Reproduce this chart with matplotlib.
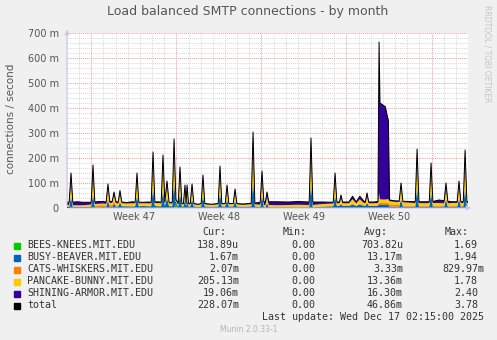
import matplotlib
matplotlib.use("Agg")
import matplotlib.pyplot as plt
from matplotlib.patches import Rectangle

W, H = 497, 340

# time in days from start of graph (33 days shown)
t = [0.0, 0.18, 0.33, 0.48, 0.8, 1.3, 1.8, 1.99, 2.14, 2.29,
     2.6, 3.0, 3.22, 3.37, 3.52, 3.72, 3.87, 4.02, 4.21, 4.36,
     4.51, 4.9, 5.4, 5.61, 5.76, 5.91, 6.3, 6.7, 6.93, 7.08,
     7.23, 7.5, 7.75, 7.90, 8.05, 8.23, 8.4, 8.66, 8.81, 8.96,
     9.15, 9.30, 9.45, 9.58, 9.71, 9.80, 9.88, 10.0, 10.14, 10.29,
     10.44, 10.8, 11.04, 11.19, 11.34, 11.9, 12.44, 12.59, 12.74, 13.02,
     13.17, 13.32, 13.68, 13.83, 13.98, 14.5, 15.16, 15.31, 15.46, 15.90,
     16.05, 16.20, 16.33, 16.46, 16.6, 17.3, 18.2, 19.0, 19.93, 20.08,
     20.23, 21.0, 21.91, 22.06, 22.21, 22.42, 22.55, 22.68, 23.2, 23.5,
     23.8, 24.1, 24.4, 24.55, 24.69, 24.83, 25.2, 25.59, 25.68, 25.76,
     26.0, 26.2, 26.35, 26.45, 26.55, 26.9, 27.34, 27.49, 27.64, 28.2,
     28.66, 28.81, 28.96, 29.4, 29.81, 29.96, 30.11, 30.6, 31.04, 31.19,
     31.34, 31.7, 32.11, 32.26, 32.41, 32.61, 32.76, 32.91, 33.0]

# values in milli connections / second
bees = [0, 0, 0, 0, 0, 0, 0, 0, 0, 0,
        0, 0, 0, 0, 0, 0, 0, 0, 0, 0,
        0, 0, 0, 0, 0, 0, 0, 0, 0, 0,
        0, 0, 0, 0, 0, 0, 0, 0, 0, 15,
        0, 0, 0, 0, 0, 0, 0, 0, 0, 0,
        0, 0, 0, 0, 0, 0, 0, 0, 0, 0,
        0, 0, 0, 0, 0, 0, 0, 0, 0, 0,
        0, 0, 0, 0, 0, 0, 0, 0, 0, 0,
        0, 0, 0, 0, 0, 0, 0, 0, 0, 0,
        0, 0, 0, 0, 0, 0, 0, 0, 0, 0,
        0, 0, 0, 0, 0, 0, 0, 0, 0, 0,
        0, 0, 0, 0, 0, 0, 0, 0, 0, 0,
        0, 0, 0, 0, 0, 0, 0, 0, 0]
busy = [4, 4, 45, 4, 5, 4, 4, 4, 55, 3,
        3, 4, 3, 30, 4, 4, 18, 5, 6, 22,
        7, 7, 6, 7, 50, 7, 8, 7, 7, 80,
        8, 7, 7, 75, 8, 40, 7, 7, 100, 8,
        6, 60, 6, 6, 35, 6, 35, 6, 6, 36,
        6, 5, 6, 50, 6, 5, 6, 62, 6, 6,
        34, 6, 6, 28, 6, 5, 6, 112, 6, 4,
        52, 3, 3, 20, 3, 3, 3, 3, 3, 100,
        3, 5, 7, 50, 8, 8, 16, 8, 8, 14,
        8, 14, 9, 8, 20, 8, 8, 8, 20, 12,
        12, 12, 12, 12, 6, 5, 5, 35, 5, 5,
        5, 85, 5, 5, 5, 65, 5, 5, 5, 35,
        5, 5, 5, 38, 5, 5, 82, 5, 5]
cats = [1, 1, 5, 1, 1, 1, 2, 4, 10, 7,
        8, 7, 7, 15, 8, 7, 12, 6, 3, 6,
        2, 2, 2, 2, 5, 2, 2, 2, 2, 8,
        2, 2, 2, 7, 2, 5, 2, 2, 6, 1,
        1, 4, 1, 1, 3, 1, 3, 1, 1, 3,
        1, 1, 1, 3, 1, 1, 1, 4, 1, 1,
        3, 1, 1, 2, 1, 1, 1, 6, 1, 1,
        4, 1, 1, 2, 1, 1, 1, 1, 1, 5,
        1, 2, 2, 4, 2, 2, 2, 2, 2, 3,
        2, 3, 2, 2, 3, 2, 2, 3, 10, 8,
        8, 8, 9, 9, 9, 8, 7, 5, 6, 4,
        3, 6, 3, 3, 3, 5, 3, 3, 3, 4,
        3, 3, 3, 4, 3, 3, 6, 3, 3]
pancake = [6, 7, 55, 6, 5, 6, 7, 6, 67, 6,
           6, 7, 6, 36, 8, 9, 22, 9, 9, 28,
           10, 9, 11, 10, 60, 10, 9, 10, 10, 96,
           10, 11, 10, 90, 10, 45, 10, 9, 120, 8,
           8, 70, 8, 8, 38, 8, 38, 8, 8, 40,
           8, 7, 8, 55, 8, 7, 8, 70, 8, 8,
           38, 8, 8, 32, 8, 7, 8, 128, 8, 8,
           60, 8, 8, 26, 8, 7, 8, 9, 8, 115,
           8, 9, 9, 58, 9, 9, 22, 9, 9, 18,
           9, 18, 10, 9, 25, 9, 9, 9, 30, 15,
           14, 14, 14, 14, 12, 12, 12, 42, 12, 12,
           12, 100, 12, 11, 12, 75, 12, 12, 11, 42,
           11, 12, 12, 45, 12, 12, 98, 12, 12]
shining = [12, 12, 35, 12, 14, 12, 10, 9, 40, 8,
           9, 8, 8, 15, 7, 6, 12, 6, 5, 14,
           5, 4, 6, 4, 25, 4, 4, 5, 4, 40,
           4, 5, 4, 40, 4, 18, 4, 4, 50, 3,
           3, 30, 3, 3, 16, 3, 16, 3, 3, 17,
           3, 2, 3, 24, 3, 2, 3, 32, 3, 3,
           17, 3, 3, 14, 3, 3, 4, 58, 5, 10,
           32, 13, 12, 16, 13, 14, 12, 13, 12, 60,
           12, 8, 5, 28, 5, 5, 12, 5, 5, 12,
           5, 12, 8, 5, 12, 5, 5, 6, 604, 385,
           378, 371, 335, 315, 5, 4, 4, 18, 4, 5,
           5, 45, 5, 6, 5, 35, 6, 12, 10, 19,
           8, 5, 5, 21, 5, 5, 46, 5, 5]
total = [a + b + c + d + e for a, b, c, d, e in zip(bees, busy, cats, pancake, shining)]

names = ["BEES-KNEES.MIT.EDU", "BUSY-BEAVER.MIT.EDU", "CATS-WHISKERS.MIT.EDU",
         "PANCAKE-BUNNY.MIT.EDU", "SHINING-ARMOR.MIT.EDU", "total"]
colors = ["#00CC00", "#0066B3", "#FF8000", "#FFCC00", "#330099", "#000000"]
cur = ["138.89u", "1.67m", "2.07m", "205.13m", "19.06m", "228.07m"]
mins = ["0.00", "0.00", "0.00", "0.00", "0.00", "0.00"]
avg = ["703.82u", "13.17m", "3.33m", "13.36m", "16.30m", "46.86m"]
maxs = ["1.69", "1.94", "829.97m", "1.78", "2.40", "3.78"]

week_pos = [5.5, 12.5, 19.5, 26.5]
week_labels = ["Week 47", "Week 48", "Week 49", "Week 50"]
yticks = [0, 100, 200, 300, 400, 500, 600, 700]
ylabels = ["0", "100 m", "200 m", "300 m", "400 m", "500 m", "600 m", "700 m"]


def fx(x):
    return x / W


def fy(y):
    return 1 - y / H


fig = plt.figure(figsize=(W / 100, H / 100), dpi=100, facecolor="#F0F0F0")
ax = fig.add_axes([fx(67), fy(208), 401 / W, 175 / H])
ax.set_facecolor("white")
ax.set_xlim(0, 33)
ax.set_ylim(0, 700)

# grid
for d in range(0, 34):
    if d % 7 == 2:
        continue
    ax.axvline(d, color="#D8D8D8", lw=0.7, ls=(0, (1, 1)), zorder=0)
for v in range(20, 701, 20):
    if v % 100 == 0:
        continue
    ax.axhline(v, color="#D8D8D8", lw=0.7, ls=(0, (1, 1)), zorder=0)
for d in [2, 9, 16, 23, 30]:
    ax.axvline(d, color="#EAA0A0", lw=0.7, ls=(0, (1, 1)), zorder=0.5)
for v in range(100, 701, 100):
    ax.axhline(v, color="#EAA0A0", lw=0.7, ls=(0, (1, 1)), zorder=0.5)

ax.stackplot(t, bees, busy, cats, pancake, shining, colors=colors[:5], lw=0, zorder=2)
ax.plot(t, total, color="black", lw=0.7, zorder=3)

for s in ax.spines.values():
    s.set_visible(False)
axcol = "#C8C8EC"
ax.annotate("", xy=(0, 1.035), xytext=(0, 0), xycoords="axes fraction",
            arrowprops=dict(arrowstyle="-|>", color=axcol, lw=0.8, mutation_scale=7))
ax.annotate("", xy=(1.015, 0), xytext=(0, 0), xycoords="axes fraction",
            arrowprops=dict(arrowstyle="-|>", color=axcol, lw=0.8, mutation_scale=7))

ax.set_yticks(yticks)
ax.set_yticklabels(ylabels, fontsize=7, color="#555555")
ax.set_xticks(week_pos)
ax.set_xticklabels(week_labels, fontsize=7, color="#555555")
ax.tick_params(length=0, pad=3)
ax.tick_params(axis="y", pad=6)

fig.text(fx(248), fy(12), "Load balanced SMTP connections - by month",
         ha="center", va="center", fontsize=9, color="#555555")
fig.text(fx(11), fy(119), "connections / second", rotation=90,
         ha="center", va="center", fontsize=7.5, color="#555555")
fig.text(fx(487), fy(5), "RRDTOOL / TOBI OETIKER", rotation=270,
         ha="center", va="top", fontsize=5.5, color="#C4C4C4")

# legend
mono = "DejaVu Sans Mono"
lfs = 7.2
cw = 6.0
tc = "#333333"
for label, xr in [("Cur:", 226), ("Min:", 307), ("Avg:", 388), ("Max:", 469)]:
    fig.text(fx(xr), fy(232), label, ha="right", va="center",
             family=mono, fontsize=lfs, color=tc)


def right_edge(val, xr):
    # unitless values leave one character slot for the unit
    return xr if val[-1] in "mu" else xr - cw


for i in range(len(names)):
    y = 245.5 + i * 12
    fig.add_artist(Rectangle((fx(14), fy(y + 3)), 6 / W, 6 / H,
                             transform=fig.transFigure, color=colors[i]))
    fig.text(fx(27), fy(y), names[i], ha="left", va="center",
             family=mono, fontsize=lfs, color=tc)
    for vals, xr in [(cur, 239), (mins, 321), (avg, 403), (maxs, 484)]:
        fig.text(fx(right_edge(vals[i], xr)), fy(y), vals[i], ha="right",
                 va="center", family=mono, fontsize=lfs, color=tc)

fig.text(fx(484), fy(317.5), "Last update: Wed Dec 17 02:15:00 2025",
         ha="right", va="center", family=mono, fontsize=lfs, color=tc)
fig.text(fx(248.5), fy(329.5), "Munin 2.0.33-1", ha="center", va="center",
         fontsize=5.5, color="#B4B4B4")

fig.savefig("out.png", dpi=100, facecolor=fig.get_facecolor())
